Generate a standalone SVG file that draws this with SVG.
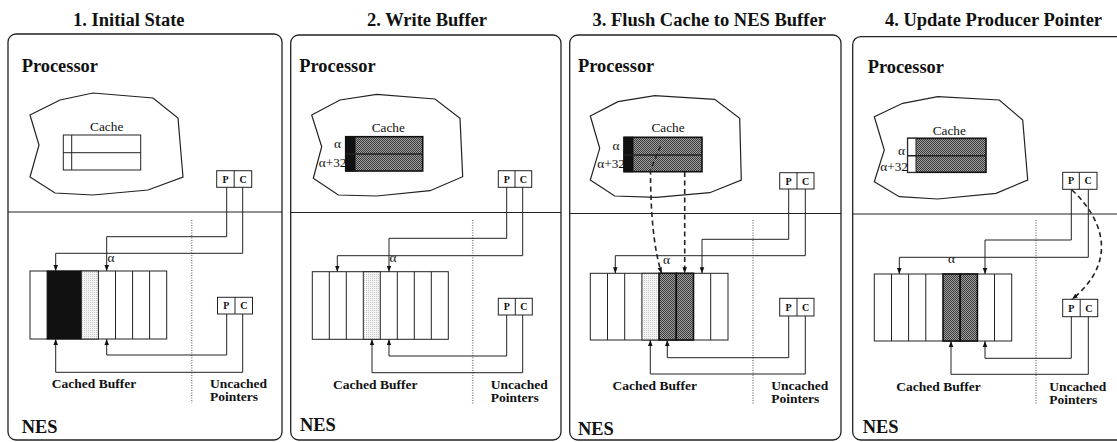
<svg xmlns="http://www.w3.org/2000/svg" width="1117" height="442" viewBox="0 0 1117 442">
<style>
text{font-family:"Liberation Serif","Times New Roman","DejaVu Serif","Noto Serif",serif;fill:#111}
.title{font-weight:bold;font-size:18.5px;text-anchor:middle}
.big{font-weight:bold;font-size:18.4px}
.lbl{font-size:13.3px}
.mid{text-anchor:middle}
.end{text-anchor:end}
.bl{font-weight:bold;font-size:13.5px}
.pc{font-weight:bold;font-size:10px;text-anchor:middle}
.frame{fill:#fff;stroke:#222;stroke-width:1.3}
.ln{fill:none;stroke:#222;stroke-width:1}
.box{fill:#fff;stroke:#222;stroke-width:1}
.blob{fill:#fff;stroke:#222;stroke-width:1.2}
.conn{fill:none;stroke:#222;stroke-width:1;marker-end:url(#ah)}
.dash{fill:none;stroke:#222;stroke-width:1.6;stroke-dasharray:5 3.5;marker-end:url(#ah)}
.dot{stroke:#888;stroke-width:1.5;stroke-dasharray:1 1.5}
.dark{fill:url(#hatch);stroke:#111;stroke-width:1.6}
.light{fill:url(#ldot);stroke:#222;stroke-width:1}
.blk{fill:#111;stroke:#111;stroke-width:1}
</style>
<defs>
<marker id="ah" viewBox="0 0 10 10" refX="10" refY="5" markerWidth="6" markerHeight="6" markerUnits="userSpaceOnUse" orient="auto">
<path d="M0,1.2 L10,5 L0,8.8 z" fill="#111"/>
</marker>
<pattern id="hatch" width="2" height="2" patternUnits="userSpaceOnUse">
<rect width="2" height="2" fill="#a0a0a0"/>
<rect width="1" height="1" fill="#3a3a3a"/>
<rect x="1" y="1" width="1" height="1" fill="#3a3a3a"/>
</pattern>
<pattern id="ldot" width="2" height="2" patternUnits="userSpaceOnUse">
<rect width="2" height="2" fill="#f4f4f4"/>
<rect width="1" height="1" fill="#c8c8c8"/>
</pattern>
</defs>
<rect width="1117" height="442" fill="#fff"/>

<g id="titles">
<text class="title" x="128.8" y="26">1. Initial State</text>
<text class="title" x="427" y="26">2. Write Buffer</text>
<text class="title" x="709.2" y="26">3. Flush Cache to NES Buffer</text>
<text class="title" x="993.5" y="26">4. Update Producer Pointer</text>
</g>

<!-- ================= Panel 1 ================= -->
<g id="panel1">
<rect class="frame" x="8" y="34" width="274" height="406" rx="8"/>
<line class="ln" x1="8" y1="212" x2="282" y2="212"/>
<text class="big" x="21.7" y="71.7">Processor</text>
<text class="big" x="21.7" y="433">NES</text>
<line class="dot" x1="191.7" y1="220" x2="191.7" y2="403"/>
<g id="p1-cache">
<polygon class="blob" points="30,115 60,100 93,93 153,98 178,118 183,177 148,190 93,195 55,193 30,177 39,145"/>
<text class="lbl mid" x="106.7" y="131">Cache</text>
<rect class="box" x="63.3" y="135" width="77.4" height="35"/>
<line class="ln" x1="71.7" y1="135" x2="71.7" y2="170"/>
<line class="ln" x1="63.3" y1="152.7" x2="140.7" y2="152.7"/>
</g>
<g id="p1-pc-top">
<rect class="box" x="216.7" y="170.7" width="35" height="16.6"/>
<line class="ln" x1="234.2" y1="170.7" x2="234.2" y2="187.3"/>
<text class="pc" x="225.5" y="182.5">P</text>
<text class="pc" x="243" y="182.5">C</text>
</g>
<g id="p1-buffer">
<rect class="box" x="30" y="271" width="136.7" height="68"/>
<rect class="blk" x="47.1" y="271" width="34.2" height="68"/>
<rect class="light" x="81.3" y="271" width="17.1" height="68"/>
<line class="ln" x1="115.5" y1="271" x2="115.5" y2="339"/>
<line class="ln" x1="132.6" y1="271" x2="132.6" y2="339"/>
<line class="ln" x1="149.6" y1="271" x2="149.6" y2="339"/>
<text class="lbl" x="107.5" y="262">α</text>
<text class="bl mid" x="94" y="388.3">Cached Buffer</text>
</g>
<g id="p1-pc-bottom">
<rect class="box" x="217.5" y="297.3" width="35" height="16.7"/>
<line class="ln" x1="235" y1="297.3" x2="235" y2="314"/>
<text class="pc" x="226.3" y="309.2">P</text>
<text class="pc" x="243.8" y="309.2">C</text>
<text class="bl" x="210" y="388">Uncached</text>
<text class="bl" x="210" y="401">Pointers</text>
</g>
</g>

<!-- ================= Panel 2 ================= -->
<g id="panel2">
<rect class="frame" x="290.7" y="35" width="270.3" height="405" rx="8"/>
<line class="ln" x1="290.7" y1="212.5" x2="561" y2="212.5"/>
<text class="big" x="299.3" y="72">Processor</text>
<text class="big" x="300" y="431">NES</text>
<line class="dot" x1="472.7" y1="220" x2="472.7" y2="405"/>
<g id="p2-cache">
<polygon class="blob" points="311.7,115 340,100 376.7,94.3 435,99 460,118.3 462.7,176.7 430,190.7 376.7,196 338.3,195 313.3,178.3 321.7,146.7"/>
<text class="lbl mid" x="388.3" y="131.7">Cache</text>
<rect class="dark" x="345.7" y="136.7" width="77" height="34.3"/>
<rect class="blk" x="345.7" y="136.7" width="9.3" height="34.3"/>
<line class="ln" x1="345.7" y1="154" x2="422.7" y2="154" style="stroke-width:1.4"/>
<text class="lbl end" x="341" y="148.3">α</text>
<text class="lbl end" x="346.5" y="166.7">α+32</text>
</g>
<g id="p2-pc-top">
<rect class="box" x="498.3" y="170.7" width="33.4" height="16.6"/>
<line class="ln" x1="515" y1="170.7" x2="515" y2="187.3"/>
<text class="pc" x="506.7" y="182.5">P</text>
<text class="pc" x="523.3" y="182.5">C</text>
</g>
<g id="p2-buffer">
<rect class="box" x="312.3" y="271.7" width="136" height="67.6"/>
<line class="ln" x1="329.3" y1="271.7" x2="329.3" y2="339.3"/>
<line class="ln" x1="346.3" y1="271.7" x2="346.3" y2="339.3"/>
<rect class="light" x="363.3" y="271.7" width="17" height="67.6"/>
<line class="ln" x1="397.3" y1="271.7" x2="397.3" y2="339.3"/>
<line class="ln" x1="414.3" y1="271.7" x2="414.3" y2="339.3"/>
<line class="ln" x1="431.3" y1="271.7" x2="431.3" y2="339.3"/>
<text class="lbl" x="389.5" y="262">α</text>
<text class="bl mid" x="375.3" y="389">Cached Buffer</text>
</g>
<g id="p2-pc-bottom">
<rect class="box" x="498.3" y="298.3" width="34" height="16.7"/>
<line class="ln" x1="515.3" y1="298.3" x2="515.3" y2="315"/>
<text class="pc" x="506.8" y="310.2">P</text>
<text class="pc" x="523.8" y="310.2">C</text>
<text class="bl" x="490.7" y="388.5">Uncached</text>
<text class="bl" x="490.7" y="401.5">Pointers</text>
</g>
</g>

<!-- ================= Panel 3 ================= -->
<g id="panel3">
<rect class="frame" x="569.7" y="35" width="271.3" height="405" rx="8"/>
<line class="ln" x1="569.7" y1="213.5" x2="841" y2="213.5"/>
<text class="big" x="578" y="72">Processor</text>
<text class="big" x="578" y="435">NES</text>
<line class="dot" x1="753" y1="220" x2="753" y2="405"/>
<g id="p3-cache">
<polygon class="blob" points="590.3,116 618,101.7 654.7,95.7 714.7,99.3 739.7,118.3 741.3,180 709.7,192.7 656.3,197.3 614.7,196 590.3,180 599.7,148.3"/>
<text class="lbl mid" x="668" y="132">Cache</text>
<rect class="dark" x="624" y="137.3" width="78" height="34.4"/>
<rect class="blk" x="624" y="137.3" width="9" height="34.4"/>
<line class="ln" x1="624" y1="155" x2="702" y2="155" style="stroke-width:1.4"/>
<text class="lbl end" x="619.5" y="149.5">α</text>
<text class="lbl end" x="625" y="167.7">α+32</text>
</g>
<g id="p3-pc-top">
<rect class="box" x="779.7" y="172.7" width="34.3" height="16.3"/>
<line class="ln" x1="797" y1="172.7" x2="797" y2="189"/>
<text class="pc" x="788.5" y="184.5">P</text>
<text class="pc" x="805.5" y="184.5">C</text>
</g>
<g id="p3-buffer">
<rect class="box" x="590.3" y="273.3" width="137.7" height="66.7"/>
<line class="ln" x1="607.5" y1="273.3" x2="607.5" y2="340"/>
<line class="ln" x1="624.7" y1="273.3" x2="624.7" y2="340"/>
<rect class="light" x="641.9" y="273.3" width="17.2" height="66.7"/>
<rect class="dark" x="659.1" y="273.3" width="17.2" height="66.7"/>
<rect class="dark" x="676.3" y="273.3" width="17.2" height="66.7"/>
<line class="ln" x1="710.7" y1="273.3" x2="710.7" y2="340"/>
<text class="lbl" x="663" y="263.5">α</text>
<text class="bl mid" x="654.8" y="390">Cached Buffer</text>
</g>
<g id="p3-pc-bottom">
<rect class="box" x="779.7" y="298.3" width="34.3" height="17.7"/>
<line class="ln" x1="797" y1="298.3" x2="797" y2="316"/>
<text class="pc" x="788.5" y="310.8">P</text>
<text class="pc" x="805.5" y="310.8">C</text>
<text class="bl" x="771.3" y="389.5">Uncached</text>
<text class="bl" x="771.3" y="402.5">Pointers</text>
</g>
</g>

<!-- ================= Panel 4 ================= -->
<g id="panel4">
<rect class="frame" x="852.7" y="36.7" width="280" height="403.3" rx="8"/>
<line class="ln" x1="852.7" y1="214" x2="1117" y2="214"/>
<text class="big" x="867.7" y="73">Processor</text>
<text class="big" x="862.7" y="433.3">NES</text>
<line class="dot" x1="1036" y1="220" x2="1036" y2="405"/>
<g id="p4-cache">
<polygon class="blob" points="874.3,116.7 902.7,103.3 937.7,96.7 999.3,100 1022.7,120 1027.7,180 996,193.3 937.7,199 899.3,196.7 874.3,181.7 884.3,150"/>
<text class="lbl mid" x="949.3" y="135">Cache</text>
<rect class="dark" x="907.7" y="138.3" width="78.3" height="34"/>
<rect class="box" x="907.7" y="138.3" width="8.3" height="34"/>
<line class="ln" x1="907.7" y1="155.7" x2="986" y2="155.7" style="stroke-width:1.4"/>
<text class="lbl end" x="905" y="155">α</text>
<text class="lbl end" x="908" y="170.5">α+32</text>
</g>
<g id="p4-pc-top">
<rect class="box" x="1062.7" y="172.3" width="34.3" height="17"/>
<line class="ln" x1="1079.3" y1="172.3" x2="1079.3" y2="189.3"/>
<text class="pc" x="1071" y="184.3">P</text>
<text class="pc" x="1088.2" y="184.3">C</text>
</g>
<g id="p4-buffer">
<rect class="box" x="874.3" y="274" width="137.4" height="67"/>
<line class="ln" x1="891.5" y1="274" x2="891.5" y2="341"/>
<line class="ln" x1="908.6" y1="274" x2="908.6" y2="341"/>
<line class="ln" x1="925.8" y1="274" x2="925.8" y2="341"/>
<rect class="dark" x="943" y="274" width="17.2" height="67"/>
<rect class="dark" x="960.2" y="274" width="17.2" height="67"/>
<line class="ln" x1="994.5" y1="274" x2="994.5" y2="341"/>
<text class="lbl mid" x="951.5" y="263">α</text>
<text class="bl mid" x="938.5" y="391">Cached Buffer</text>
</g>
<g id="p4-pc-bottom">
<rect class="box" x="1062.7" y="299.3" width="35" height="17.4"/>
<line class="ln" x1="1080.2" y1="299.3" x2="1080.2" y2="316.7"/>
<text class="pc" x="1071.3" y="311.8">P</text>
<text class="pc" x="1088.8" y="311.8">C</text>
<text class="bl" x="1049.3" y="390.5">Uncached</text>
<text class="bl" x="1049.3" y="403.5">Pointers</text>
</g>
</g>

<!-- ================= Connectors ================= -->
<g id="connectors">
<path class="conn" d="M226.7,187.3 V236.7 H106.7 V271"/>
<path class="conn" d="M242.7,187.3 V253.3 H55.7 V271"/>
<path class="conn" d="M226.7,314 V355 H106.7 V339"/>
<path class="conn" d="M242.7,314 V372.3 H55.7 V339"/>
<path class="conn" d="M506.7,187.3 V238.3 H389 V271.7"/>
<path class="conn" d="M522.7,187.3 V255.7 H337.3 V271.7"/>
<path class="conn" d="M506.7,315 V356 H389 V339.3"/>
<path class="conn" d="M522.7,315 V372.7 H372 V339.3"/>
<path class="conn" d="M788.7,189 V239.3 H702 V273.3"/>
<path class="conn" d="M805.3,189 V255.7 H615.3 V273.3"/>
<path class="conn" d="M788.7,316 V357.7 H667.3 V340"/>
<path class="conn" d="M805.3,316 V374 H650.3 V340"/>
<path class="dash" d="M660.5,146 L650.5,170 Q650.5,238 661.5,273.3"/>
<path class="dash" d="M684.7,172 V273.3"/>
<path class="conn" d="M1071.3,189.3 V240 H985 V274"/>
<path class="conn" d="M1088.3,189.3 V257.3 H899.3 V274"/>
<path class="conn" d="M1071.3,316.7 V358.3 H985 V341"/>
<path class="conn" d="M1088.3,316.7 V374.3 H951 V341"/>
<path class="dash" d="M1072,190 C1104,220 1118,262 1072,299.3"/>
</g>
</svg>
